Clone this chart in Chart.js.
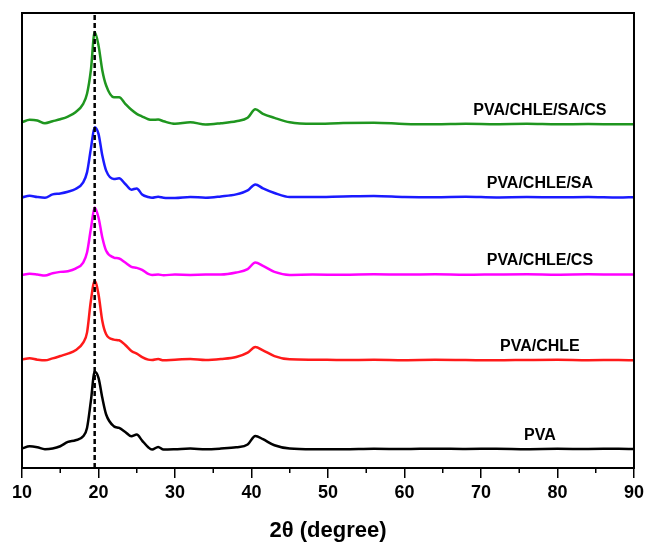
<!DOCTYPE html>
<html>
<head>
<meta charset="utf-8">
<script src="https://cdn.jsdelivr.net/npm/chart.js@4/dist/chart.umd.min.js"></script>
<style>
  html, body { margin: 0; padding: 0; background: #fff; }
  #wrap { width: 648px; height: 544px; }
</style>
</head>
<body>
<div id="wrap"><canvas id="xrdChart"></canvas></div>
<script>
// 2-theta positions shared by all patterns
const twoTheta = [10, 11, 12, 13, 14, 15, 16, 17, 18, 18.5,
  19, 19.5, 20, 20.5, 21, 22, 22.7, 23.5, 24.3, 25, 25.7,
  26.5, 27, 27.8, 28.5, 30, 32, 34, 36, 38, 39.5, 40.5, 41.5, 43, 45, 48,
  52, 56, 60, 64, 68, 72, 76, 80, 84, 88, 90];

// intensities (a.u.), before stacking offset
const pva = [0.7, 3, 2, 0, 0.7, 3, 7.3, 9, 13, 21.3,
  48, 77.3, 71.3, 51.3, 34.7, 23, 21.3, 17.3, 13, 14.7, 8.7,
  2, -0.3, 2.3, -0.3, 0, 0.7, 0, 0.7, 2, 4.7, 13.3, 10, 4, 0.7, 0,
  0, 0.5, 0.2, 0.6, 0.3, 0.5, 0.1, 0.4, 0.3, 0.5, 0.2];
const pvaChle = [1, 2, 0.7, 0, 2, 4.3, 6.7, 10, 17.7, 27.7,
  59.3, 79.3, 66, 39.3, 26, 20.7, 20, 15.3, 9.3, 6.7, 3.3,
  0.7, 0.3, 1.3, 0, 0.7, 1.3, 0.3, 1.3, 3.3, 7.7, 13.3, 10, 4.3, 1, 0.7,
  0.3, 0.6, 0.2, 0.5, 0.3, 0.1, 0.4, 0.6, 0.2, 0.4, 0];
const pvaChleCs = [0, 1, 0.3, -0.7, 1.7, 3, 3.7, 6.3, 12.3, 22.3,
  45.7, 67.3, 57.3, 37.3, 24, 17.3, 16.3, 12.3, 8, 7, 5,
  1, 0, 0.3, -0.3, 0.3, 0, 0.3, 0.3, 2.3, 5.7, 12.3, 9, 3, 0, 0.3,
  0.2, 0.6, 0.3, 0.5, 0.1, 0.4, 0.6, 0.2, 0.5, 0.3, 0.4];
const pvaChleSa = [0.3, 2, 0.7, 0, 3.3, 4.3, 6, 8.7, 15.3, 25.3,
  48.7, 70.3, 63.7, 42, 27, 18.7, 19.3, 13.7, 8, 9.3, 3.3,
  0.7, 0, 1, 0, -0.3, 0.7, 0, 1.3, 3.3, 7.3, 13.3, 9.3, 4.7, 0.7, 0.7,
  1.3, 1.8, 0.8, 0.5, 0.9, 0.3, 0.6, 0.4, 0.7, 0.2, 0.5];
const pvaChleSaCs = [2.3, 4.7, 4, 1.3, 3.3, 5.3, 8, 12.3, 20.7, 30.7,
  54, 92.3, 79, 54, 39, 27.3, 27.3, 20.7, 14.7, 10.7, 8,
  5.3, 4.7, 5, 3.3, 0.7, 2.3, 0, 1.3, 3.3, 6.7, 15.3, 10.7, 6.7, 2.3, 0.7,
  1.5, 1.8, 0.6, 0.3, 0.8, 0.4, 0.7, 0.2, 0.5, 0.3, 0.4];

const seriesNames = ["PVA", "PVA/CHLE", "PVA/CHLE/CS", "PVA/CHLE/SA", "PVA/CHLE/SA/CS"];
const seriesData = [pva, pvaChle, pvaChleCs, pvaChleSa, pvaChleSaCs];
const offsets = [18.7, 107.4, 192.7, 269.7, 342.7]; // vertical stacking
const colors = ["#000000", "#ff1a1a", "#ff00ff", "#1a1aff", "#1f961f"];

const xTicks = [10, 20, 30, 40, 50, 60, 70, 80, 90];
const refLine = 19.5;   // dashed marker at main PVA reflection
const labelX = 77.7;
const labelLift = 14;
const yMax = 454;

const fontFam = "'Liberation Sans', Arial, Helvetica, sans-serif";

const datasets = seriesData.map((vals, i) => ({
  label: seriesNames[i],
  data: vals.map((v, j) => ({ x: twoTheta[j], y: v + offsets[i] })),
  borderColor: colors[i],
  borderWidth: 2.5,
  pointRadius: 0,
  cubicInterpolationMode: "monotone",
  fill: false,
  order: 1
}));

datasets.push({
  label: "ref",
  data: [{ x: refLine, y: 0 }, { x: refLine, y: yMax }],
  borderColor: "#000",
  borderWidth: 2.5,
  borderDash: [5, 3],
  pointRadius: 0,
  fill: false,
  order: 0
});

// frame, minor ticks and curve names
const decorations = {
  id: "decorations",
  afterDraw(chart) {
    const ctx = chart.ctx;
    const a = chart.chartArea;
    const xs = chart.scales.x;
    const ys = chart.scales.y;
    ctx.save();
    ctx.strokeStyle = "#000";
    ctx.lineWidth = 2;
    ctx.strokeRect(a.left, a.top, a.right - a.left, a.bottom - a.top);

    ctx.lineWidth = 1.5;
    for (let k = 0; k < xTicks.length - 1; k++) {
      const px = xs.getPixelForValue((xTicks[k] + xTicks[k + 1]) / 2);
      ctx.beginPath();
      ctx.moveTo(px, a.bottom);
      ctx.lineTo(px, a.bottom + 5);
      ctx.stroke();
    }

    ctx.fillStyle = "#000";
    ctx.font = "bold 16px " + fontFam;
    ctx.textAlign = "center";
    ctx.textBaseline = "middle";
    seriesNames.forEach((name, i) => {
      ctx.fillText(name, xs.getPixelForValue(labelX), ys.getPixelForValue(offsets[i] + labelLift));
    });
    ctx.restore();
  }
};

new Chart(document.getElementById("xrdChart"), {
  type: "line",
  data: { datasets: datasets },
  options: {
    responsive: true,
    maintainAspectRatio: false,
    animation: false,
    layout: { padding: { left: 22, right: 0, top: 13, bottom: 0 } },
    plugins: { legend: { display: false }, tooltip: { enabled: false } },
    scales: {
      x: {
        type: "linear",
        min: 10,
        max: 90,
        border: { display: true, color: "#000", width: 2 },
        grid: { drawOnChartArea: false, tickLength: 10, color: "#000", lineWidth: 1.5 },
        afterBuildTicks: (axis) => { axis.ticks = xTicks.map(v => ({ value: v })); },
        ticks: {
          color: "#000",
          padding: 4,
          maxRotation: 0,
          autoSkip: false,
          font: { family: fontFam, size: 18, weight: "bold" }
        },
        title: {
          display: true,
          text: "2θ (degree)",
          color: "#000",
          font: { family: fontFam, size: 22, weight: "bold" },
          padding: { top: 10, bottom: 0 }
        }
      },
      y: {
        display: false,
        min: 0,
        max: yMax
      }
    }
  },
  plugins: [decorations]
});
</script>
</body>
</html>
